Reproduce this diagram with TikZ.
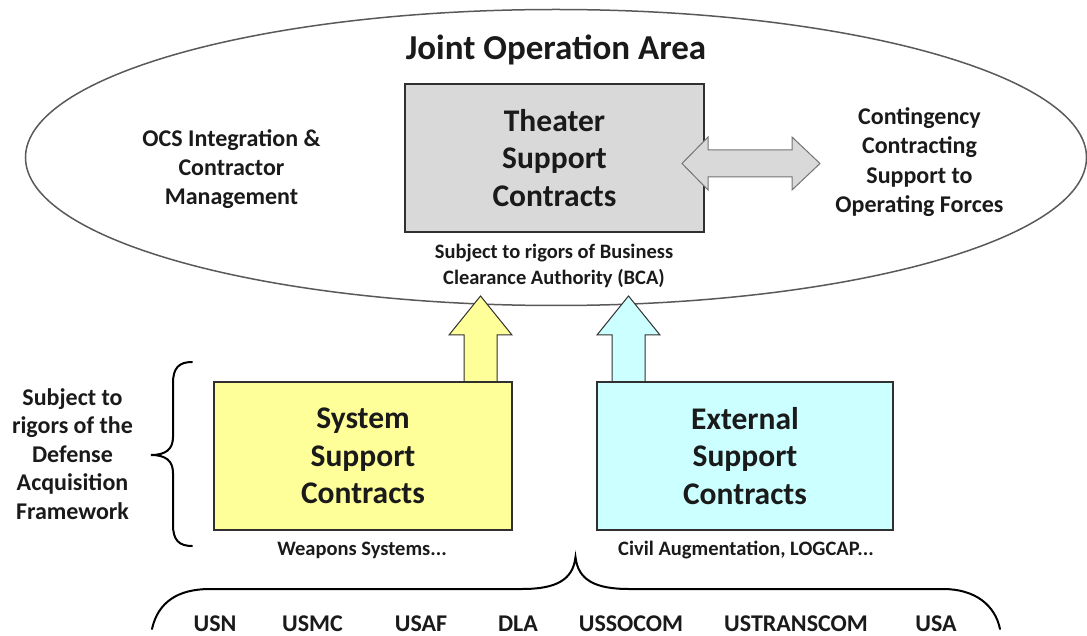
\documentclass[tikz,border=0pt]{standalone}
\usepackage{fontspec}
\setmainfont{Carlito}
\usetikzlibrary{shapes.geometric}
\definecolor{boxgray}{HTML}{D9D9D9}
\definecolor{ylw}{HTML}{FFFF99}
\definecolor{cyn}{HTML}{CCFFFF}
\definecolor{edge}{HTML}{303030}
\definecolor{txtc}{HTML}{1A1A1A}
\begin{document}
\begin{tikzpicture}[x=1pt,y=-1pt,
  txt/.style={align=center,inner sep=0pt,text=txtc,font=\bfseries\fontsize{24}{29}\selectfont},
  small/.style={align=center,inner sep=0pt,text=txtc,font=\bfseries\fontsize{20.5}{26}\selectfont},
  boxt/.style={draw=edge,line width=1.2pt,inner sep=0pt,align=center,text=txtc,
     font=\bfseries\fontsize{31.5}{37.5}\selectfont},
  blk/.style={draw=edge,line width=1pt,line join=miter},
  brace/.style={draw=black,line width=2pt,line cap=round}]
\useasboundingbox (0,0) rectangle (1087,636);

% Joint operation area
\node[ellipse,draw=black!65,line width=1.5pt,minimum width=1061pt,minimum height=296pt,inner sep=0pt] (joa) at (556,157.5) {};
\node[txt,font=\bfseries\fontsize{35}{40}\selectfont] (joat) at (556,50) {Joint Operation Area};

% block arrows (drawn below boxes)
\draw[blk,fill=ylw] (464,384) -- (464,335) -- (449,335) -- (480.5,296) -- (512,335) -- (497,335) -- (497,384) -- cycle;
\draw[blk,fill=cyn] (612,384) -- (612,335) -- (597,335) -- (628.5,296) -- (660,335) -- (645,335) -- (645,384) -- cycle;

% theater box
\node[boxt,fill=boxgray,minimum width=299pt,minimum height=148pt] (tsc) at (554.5,158) {Theater\\Support\\Contracts};
\draw[draw=black!55,line width=1pt,fill=boxgray,line join=miter]
  (682,163.5) -- (708,137) -- (708,150) -- (792,150) -- (792,137) -- (820,163.5)
  -- (792,190) -- (792,177) -- (708,177) -- (708,190) -- cycle;

\node[txt] (ocs) at (231.5,169) {OCS Integration \&\\Contractor\\Management};
\node[txt,font=\bfseries\fontsize{24}{29.6}\selectfont] (ccs) at (919.5,162) {Contingency\\Contracting\\Support to\\Operating Forces};
\node[small] (bca) at (554,266) {Subject to rigors of Business\\Clearance Authority (BCA)};

% lower boxes
\node[boxt,fill=ylw,minimum width=298pt,minimum height=148pt] (ssc) at (363,456) {System\\Support\\Contracts};
\node[boxt,fill=cyn,minimum width=296pt,minimum height=148pt] (esc) at (745,456) {External\\Support\\Contracts};
\node[small] (ws) at (362,550) {Weapons Systems...};
\node[small] (ca) at (746,550) {Civil Augmentation, LOGCAP...};

% left brace and label
\draw[brace] (192,362) .. controls (179,362) and (173,368) .. (173,383) -- (173,437)
  .. controls (173,449) and (166,455) .. (151,455)
  .. controls (166,455) and (173,461) .. (173,473) -- (173,525)
  .. controls (173,540) and (179,546) .. (192,546);
\node[txt,font=\bfseries\fontsize{24}{28.5}\selectfont] (daf) at (72.5,454) {Subject to\\rigors of the\\Defense\\Acquisition\\Framework};

% bottom brace
\coordinate (apex) at (575.5,557);
\draw[brace] (152,629) .. controls (158,602) and (178,589) .. (210,589) -- (522,589)
  .. controls (556,589) and (573,580) .. (apex)
  .. controls (578,580) and (595,589) .. (629,589) -- (943,589)
  .. controls (975,589) and (995,605) .. (1000,629);

% services
\node[txt] (usn) at (215,624) {USN};
\node[txt] (usmc) at (312.5,624) {USMC};
\node[txt] (usaf) at (421,624) {USAF};
\node[txt] (dla) at (518,624) {DLA};
\node[txt] (ussocom) at (631,624) {USSOCOM};
\node[txt] (ustc) at (796,624) {USTRANSCOM};
\node[txt] (usa) at (936,624) {USA};
\end{tikzpicture}
\end{document}
